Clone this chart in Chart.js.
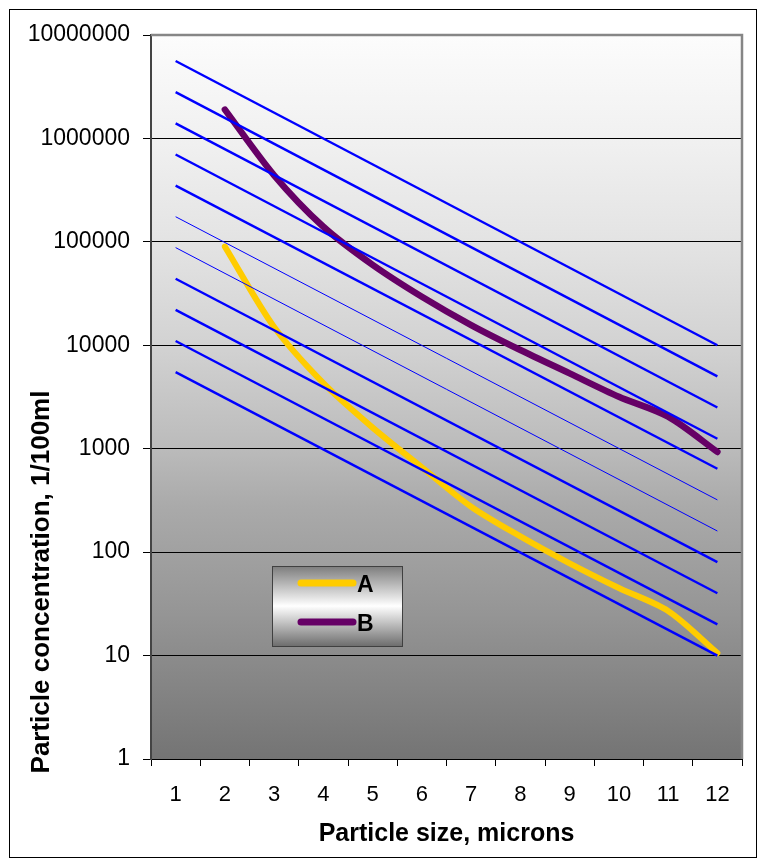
<!DOCTYPE html>
<html>
<head>
<meta charset="utf-8">
<title>Particle concentration vs particle size</title>
<script src="https://cdn.jsdelivr.net/npm/chart.js@4.4.1/dist/chart.umd.min.js"></script>
<style>
    html, body { margin: 0; padding: 0; background: #fff; }
    #wrap { width: 765px; height: 867px; }
</style>
</head>
<body>
<div id="wrap"><canvas id="particleChart" width="765" height="867"></canvas></div>
<script>
// Category axis: particle size, microns
const sizes = ['1', '2', '3', '4', '5', '6', '7', '8', '9', '10', '11', '12'];
const yTicks = [1, 10, 100, 1000, 10000, 100000, 1000000, 10000000];

// Measured series (1/100ml), no value at 1 micron
const seriesA = [null, 90000, 15000, 4300, 1600, 660, 275, 142, 78, 45, 27, 10.6];
const seriesB = [null, 1900000, 440000, 140000, 60000, 29500, 15700, 9000, 5350, 3180, 2040, 930];

// Blue class lines: value at size 1 and at size 12
const guideStart = [5600000, 2800000, 1400000, 700000, 350000, 175000, 88000, 44000, 22000, 11000, 5500];
const guideEnd = [10000, 5000, 2500, 1250, 640, 320, 160, 80, 40, 20, 10];
const thinGuides = [5, 6];

const yTitle = 'Particle concentration, 1/100ml';
const xTitle = 'Particle size, microns';
const FONT = '"Liberation Sans", Arial, sans-serif';

const guideSets = guideStart.map((start, k) => ({
    label: '',
    data: sizes.map((_, i) => i === 0 ? start : (i === sizes.length - 1 ? guideEnd[k] : null)),
    borderColor: '#0000ff',
    borderWidth: thinGuides.includes(k) ? 1 : 2.4,
    pointRadius: 0,
    spanGaps: true,
    tension: 0,
    order: 0
}));

// Excel-like decorations: gradient plot area, frame, legend box, y title
const excelLook = {
    id: 'excelLook',
    beforeDraw(chart) {
        const { ctx, chartArea: a } = chart;
        ctx.save();
        ctx.fillStyle = '#ffffff';
        ctx.fillRect(0, 0, chart.width, chart.height);
        const g = ctx.createLinearGradient(0, a.top, 0, a.bottom);
        g.addColorStop(0, '#fcfcfc');
        g.addColorStop(0.15, '#f0f0f0');
        g.addColorStop(0.3, '#e2e2e2');
        g.addColorStop(0.43, '#d2d2d2');
        g.addColorStop(0.57, '#bbbbbb');
        g.addColorStop(0.65, '#aaaaaa');
        g.addColorStop(0.8, '#959595');
        g.addColorStop(1, '#747474');
        ctx.fillStyle = g;
        ctx.fillRect(a.left, a.top, a.right - a.left, a.bottom - a.top);
        ctx.restore();
    },
    afterDraw(chart) {
        const { ctx, chartArea: a } = chart;
        ctx.save();

        // plot area border (top / right)
        ctx.strokeStyle = '#868686';
        ctx.lineWidth = 2.5;
        ctx.beginPath();
        ctx.moveTo(a.left, a.top);
        ctx.lineTo(a.right, a.top);
        ctx.lineTo(a.right, a.bottom);
        ctx.stroke();

        // outer frame
        ctx.strokeStyle = '#000';
        ctx.lineWidth = 1;
        ctx.strokeRect(9.5, 9.5, 747, 848);

        // y axis title
        ctx.fillStyle = '#000';
        ctx.font = 'bold 26px ' + FONT;
        ctx.textAlign = 'center';
        ctx.textBaseline = 'middle';
        ctx.translate(42, 582);
        ctx.rotate(-Math.PI / 2);
        ctx.fillText(yTitle, 0, 0);
        ctx.setTransform(1, 0, 0, 1, 0, 0);

        // legend box
        const bx = 272, by = 566, bw = 130, bh = 80;
        const lg = ctx.createLinearGradient(0, by, 0, by + bh);
        lg.addColorStop(0, '#7c7c7c');
        lg.addColorStop(0.5, '#ffffff');
        lg.addColorStop(1, '#6e6e6e');
        ctx.fillStyle = lg;
        ctx.fillRect(bx, by, bw, bh);
        ctx.strokeStyle = '#404040';
        ctx.lineWidth = 1;
        ctx.strokeRect(bx + 0.5, by + 0.5, bw, bh);

        const items = chart.data.datasets.filter(d => d.label);
        items.forEach((d, i) => {
            const cy = 583 + i * 39;
            ctx.strokeStyle = d.borderColor;
            ctx.lineWidth = 7;
            ctx.lineCap = 'round';
            ctx.beginPath();
            ctx.moveTo(301, cy);
            ctx.lineTo(353, cy);
            ctx.stroke();
            ctx.fillStyle = '#000';
            ctx.font = 'bold 23px ' + FONT;
            ctx.textAlign = 'left';
            ctx.textBaseline = 'middle';
            ctx.fillText(d.label, 357, cy + 3);
        });
        ctx.restore();
    }
};

new Chart(document.getElementById('particleChart'), {
    type: 'line',
    data: {
        labels: sizes,
        datasets: [
            {
                label: 'A',
                data: seriesA,
                borderColor: '#ffcc00',
                borderWidth: 6,
                borderCapStyle: 'round',
                borderJoinStyle: 'round',
                pointRadius: 0,
                tension: 0.3,
                order: 1
            },
            {
                label: 'B',
                data: seriesB,
                borderColor: '#660066',
                borderWidth: 6.5,
                borderCapStyle: 'round',
                borderJoinStyle: 'round',
                pointRadius: 0,
                tension: 0.3,
                order: 1
            },
            ...guideSets
        ]
    },
    options: {
        responsive: false,
        animation: false,
        devicePixelRatio: 1,
        layout: { padding: { top: 35, right: 23, left: 0, bottom: 0 } },
        plugins: {
            legend: { display: false },
            tooltip: { enabled: false }
        },
        scales: {
            x: {
                type: 'category',
                offset: true,
                grid: { offset: true, drawOnChartArea: false, color: '#000', tickLength: 7 },
                border: { color: '#000', width: 1 },
                ticks: {
                    color: '#000',
                    font: { family: FONT, size: 22 },
                    padding: 16,
                    maxRotation: 0,
                    autoSkip: false
                },
                title: {
                    display: true,
                    text: xTitle,
                    color: '#000',
                    font: { family: FONT, size: 25, weight: 'bold' },
                    padding: { top: 0, bottom: 18 }
                },
                afterFit: (scale) => { scale.height = 108; }
            },
            y: {
                type: 'logarithmic',
                min: 1,
                max: 10000000,
                afterBuildTicks: (scale) => { scale.ticks = yTicks.map(v => ({ value: v })); },
                grid: { color: '#000', lineWidth: 1, tickLength: 8 },
                border: { color: '#444', width: 2 },
                ticks: {
                    color: '#000',
                    font: { family: FONT, size: 23 },
                    padding: 13,
                    callback: (v) => String(v)
                },
                afterFit: (scale) => { scale.width = 151; }
            }
        }
    },
    plugins: [excelLook]
});
</script>
</body>
</html>
